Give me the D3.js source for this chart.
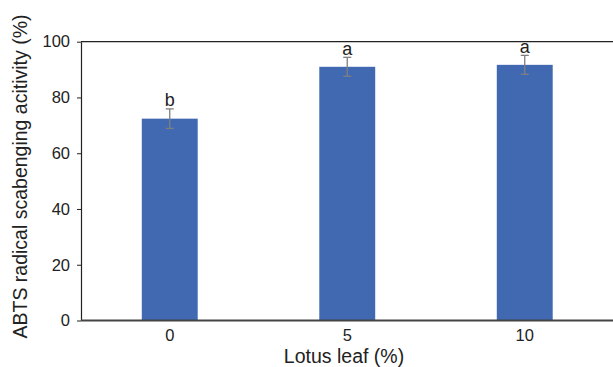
<!DOCTYPE html>
<html>
<head>
<meta charset="utf-8">
<script src="https://cdn.jsdelivr.net/npm/d3@7"></script>
<style>
  body { margin: 0; background: #fff; }
  text { font-family: "Liberation Sans", Arial, sans-serif; fill: #222; }
</style>
</head>
<body>
<div id="chart"></div>
<script>
const categories = ["0", "5", "10"];
const values = [72.4, 91.0, 91.7];
const errors = [3.5, 3.4, 3.4];
const letters = ["b", "a", "a"];
const yTicks = [0, 20, 40, 60, 80, 100];

const width = 613, height = 367;
const margin = { top: 41.7, right: -0.5, bottom: 46.5, left: 81 };

var svg = d3.select("#chart").append("svg")
    .attr("width", width)
    .attr("height", height);

var x = d3.scaleBand()
    .domain(categories)
    .range([margin.left, width - margin.right])
    .paddingInner(0.685)
    .paddingOuter(0.3425);

var y = d3.scaleLinear()
    .domain([0, 100])
    .range([height - margin.bottom, margin.top]);

// top frame line
svg.append("line")
    .attr("x1", margin.left).attr("x2", width)
    .attr("y1", y(100)).attr("y2", y(100))
    .style("stroke", "#222").style("stroke-width", 1.2);

// bars
svg.selectAll("rect.bar")
    .data(values)
    .enter().append("rect")
    .attr("class", "bar")
    .attr("x", (d, i) => x(categories[i]))
    .attr("width", x.bandwidth())
    .attr("y", d => y(d))
    .attr("height", d => y(0) - y(d))
    .style("fill", "#4169B2");

// error bars
var err = svg.selectAll("g.err")
    .data(values)
    .enter().append("g")
    .attr("class", "err")
    .style("stroke", "#7f7f7f")
    .style("stroke-width", 1.3);

err.append("line")
    .attr("x1", (d, i) => x(categories[i]) + x.bandwidth() / 2)
    .attr("x2", (d, i) => x(categories[i]) + x.bandwidth() / 2)
    .attr("y1", (d, i) => y(d + errors[i]))
    .attr("y2", (d, i) => y(d - errors[i]));

[1, -1].forEach(function(s) {
  err.append("line")
    .attr("x1", (d, i) => x(categories[i]) + x.bandwidth() / 2 - 4)
    .attr("x2", (d, i) => x(categories[i]) + x.bandwidth() / 2 + 4)
    .attr("y1", (d, i) => y(d + s * errors[i]))
    .attr("y2", (d, i) => y(d + s * errors[i]));
});

// significance letters
svg.selectAll("text.sig")
    .data(values)
    .enter().append("text")
    .attr("class", "sig")
    .attr("x", (d, i) => x(categories[i]) + x.bandwidth() / 2)
    .attr("y", (d, i) => y(d + errors[i]) - 2.5)
    .attr("text-anchor", "middle")
    .style("font-size", "18px")
    .text((d, i) => letters[i]);

// y axis
var yAxis = svg.append("g")
    .attr("transform", "translate(" + margin.left + ",0)")
    .call(d3.axisLeft(y).tickValues(yTicks).tickSize(4).tickSizeOuter(0).tickPadding(7));
yAxis.select(".domain").style("stroke", "#222").style("stroke-width", 1.2);
yAxis.selectAll(".tick line").style("stroke", "#222");
yAxis.selectAll(".tick text").style("font-size", "16.5px").style("fill", "#222");

// x axis
var xAxis = svg.append("g")
    .attr("transform", "translate(0," + y(0) + ")")
    .call(d3.axisBottom(x).tickSize(0).tickPadding(9));
xAxis.select(".domain").attr("d", "M" + margin.left + ",0H" + width)
    .style("stroke", "#444").style("stroke-width", 2);
xAxis.selectAll(".tick text").style("font-size", "16.5px").style("fill", "#222");

// axis titles
svg.append("text")
    .attr("x", 344)
    .attr("y", 362.5)
    .attr("text-anchor", "middle")
    .style("font-size", "19.5px")
    .text("Lotus leaf (%)");

svg.append("text")
    .attr("transform", "translate(27," + 176.5 + ") rotate(-90)")
    .attr("text-anchor", "middle")
    .style("font-size", "19.5px")
    .text("ABTS radical scabenging acitivity (%)");
</script>
</body>
</html>
